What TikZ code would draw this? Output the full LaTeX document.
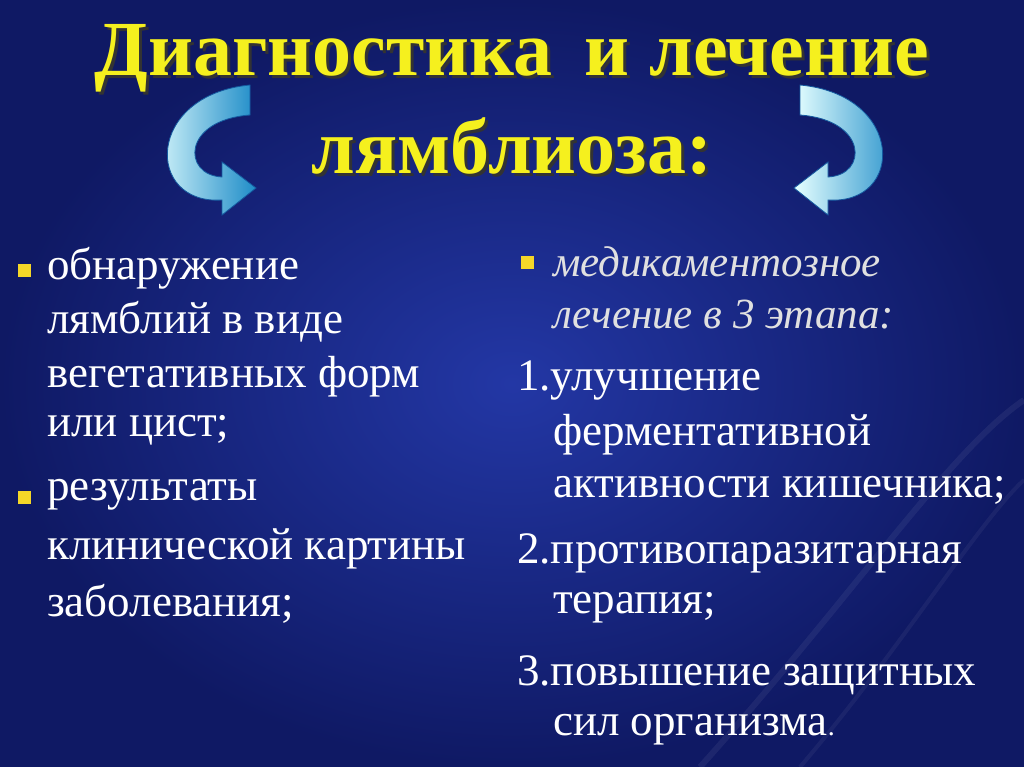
\documentclass[tikz,border=0pt]{standalone}
\usepackage{fontspec}
\setmainfont{Liberation Serif}
\begin{document}
\begin{tikzpicture}[x=1pt,y=-1pt,
  body/.style={anchor=west,text=white,font=\fontsize{45}{52}\selectfont,inner sep=0pt},
  ital/.style={anchor=west,text=black!12!white,font=\fontsize{43}{50}\selectfont\itshape,inner sep=0pt},
  ttl/.style={text={rgb,255:red,245;green,240;blue,30},font=\fontsize{78}{84}\selectfont\bfseries,inner sep=0pt},
  ttlsh/.style={text=black!80,font=\fontsize{78}{84}\selectfont\bfseries,inner sep=0pt},
  bul/.style={fill={rgb,255:red,245;green,215;blue,40},minimum size=13pt,inner sep=0pt},
  arr/.style={left color=cyan!10!white,right color={rgb,255:red,30;green,140;blue,200},draw={rgb,255:red,20;green,90;blue,160},line width=0.8pt}]
\useasboundingbox (0,0) rectangle (1024,767);
\shade[inner color={rgb,255:red,35;green,55;blue,165},outer color={rgb,255:red,15;green,25;blue,100}] (0,0) rectangle (1024,767);
\draw[white,opacity=0.06,line width=6pt] (700,767) .. controls (850,600) and (950,450) .. (1024,400);
\draw[white,opacity=0.05,line width=4pt] (800,767) .. controls (900,650) and (980,520) .. (1024,480);
\node[ttlsh] (s1) at (515,61) {Диагностика\, и лечение};
\node[ttlsh] (s2) at (515,149) {лямблиоза:};
\node[ttl] (t1) at (512,58) {Диагностика\, и лечение};
\node[ttl] (t2) at (512,146) {лямблиоза:};
\path[arr] (250,85) .. controls (145,95) and (145,205) .. (222,200) -- (222,215) -- (256,188) -- (222,162) -- (222,177) .. controls (182,175) and (182,120) .. (250,115) -- cycle;
\begin{scope}[xshift=1050,xscale=-1]
\path[arr] (250,85) .. controls (145,95) and (145,205) .. (222,200) -- (222,215) -- (256,188) -- (222,162) -- (222,177) .. controls (182,175) and (182,120) .. (250,115) -- cycle;
\end{scope}
\node[bul] (b1) at (24,270) {};
\node[bul] (b2) at (24,497) {};
\node[bul] (b3) at (527,262) {};
\node[body] (l1) at (47,268) {обнаружение};
\node[body] (l2) at (47,322) {лямблий в виде};
\node[body] (l3) at (47,377) {вегетативных форм};
\node[body] (l4) at (47,430) {или цист;};
\node[body] (l5) at (47,495) {результаты};
\node[body] (l6) at (47,549) {клинической картины};
\node[body] (l7) at (47,604) {заболевания;};
\node[ital] (r1) at (553,262) {медикаментозное};
\node[ital] (r2) at (553,315) {лечение в 3 этапа:};
\node[body] (r3) at (517,380) {1.улучшение};
\node[body] (r4) at (553,435) {ферментативной};
\node[body] (r5) at (553,490) {активности кишечника;};
\node[body] (r6) at (517,553) {2.противопаразитарная};
\node[body] (r7) at (553,608) {терапия;};
\node[body] (r8) at (517,675) {3.повышение защитных};
\node[body] (r9) at (553,730) {сил организма\fontsize{28}{30}\selectfont.};
\end{tikzpicture}
\end{document}
